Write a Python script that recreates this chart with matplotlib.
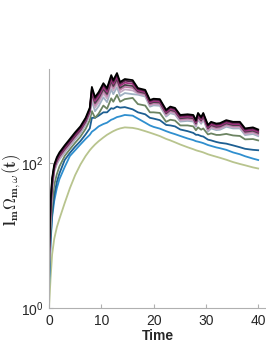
import matplotlib
matplotlib.use("Agg")
import matplotlib.pyplot as plt

plt.rcParams['font.family'] = ['Liberation Sans', 'DejaVu Sans']
plt.rcParams['mathtext.fontset'] = 'cm'

# time samples
t = [0, 0.3, 0.6, 1, 1.5, 2, 3, 4, 5, 6, 7, 7.8, 8.2, 8.8, 9.5, 10.4, 11.1, 11.9,
     12.3, 13, 13.6, 14.5, 16, 17, 18.4, 19.3, 20, 21.2, 22.4, 23.2, 24.1, 25.1,
     26.5, 27.6, 28.1, 28.5, 29.1, 29.5, 30.4, 31, 32, 32.7, 33.9, 35.2, 36.5,
     37.5, 39, 40]

# curves, bottom to top
olive = [1.0, 2.6, 5.5, 9, 13, 17, 28, 45, 68, 95, 125, 150, 162, 180, 200, 225,
         245, 265, 275, 290, 300, 310, 305, 295, 275, 262, 252, 235, 215, 205, 193,
         180, 165, 155, 150, 147, 143, 140, 132, 128, 122, 118, 111, 103, 97, 93, 87, 84]
mid_blue = [1.8, 8, 18, 30, 45, 60, 88, 125, 150, 180, 215, 245, 270, 290, 320, 345,
            360, 395, 405, 430, 440, 460, 450, 410, 360, 330, 315, 298, 275, 262, 250,
            236, 218, 207, 200, 197, 192, 188, 177, 172, 164, 160, 152, 140, 132, 124, 115, 110]
dark_blue = [2.3, 9, 20, 36, 55, 72, 110, 138, 168, 200, 248, 300, 420, 420, 450, 500,
             500, 570, 560, 600, 580, 590, 550, 500, 470, 420, 410, 390, 335, 330, 320,
             290, 275, 260, 245, 245, 235, 232, 210, 205, 195, 190, 185, 175, 165, 157, 152, 150]
grey_green = [2.8, 12, 28, 50, 70, 90, 125, 155, 190, 230, 295, 390, 520, 420, 480, 620,
              560, 780, 700, 870, 700, 760, 790, 650, 620, 500, 500, 490, 370, 395, 385,
              330, 330, 320, 283, 310, 288, 300, 248, 256, 244, 244, 252, 240, 236, 212, 214, 205]
grey_blue = [3.2, 17, 40, 76, 96, 112, 140, 172, 212, 256, 336, 464, 717, 518, 608, 806,
             691, 1043, 890, 1114, 838, 922, 890, 875, 826, 599, 624, 616, 437, 486, 466,
             373, 381, 373, 316, 397, 348, 397, 271, 300, 284, 288, 316, 300, 300, 243, 251, 235]
light_mauve = [3.6, 19, 43, 79, 100, 116, 145, 178, 220, 266, 349, 481, 806, 583, 684, 907,
               778, 1174, 1001, 1253, 943, 1037, 1001, 907, 857, 622, 647, 638, 454, 504, 483,
               386, 395, 386, 328, 412, 361, 412, 281, 311, 294, 298, 328, 311, 311, 252, 260, 244]
pink = [3.9, 21, 46, 82, 103, 120, 151, 185, 228, 275, 361, 499, 874, 632, 741, 983,
        842, 1271, 1084, 1357, 1022, 1123, 1084, 940, 887, 644, 670, 661, 470, 522, 500,
        400, 409, 400, 339, 426, 374, 426, 291, 322, 305, 309, 339, 322, 322, 261, 270, 252]
dark_grey = [4.2, 23, 50, 85, 107, 125, 156, 191, 236, 285, 374, 516, 930, 672, 789, 1046,
             896, 1353, 1154, 1444, 1087, 1195, 1154, 972, 918, 666, 693, 684, 486, 540, 518,
             414, 423, 414, 351, 441, 387, 441, 302, 333, 315, 320, 351, 333, 333, 270, 279, 261]
magenta = [4.5, 25, 54, 87, 110, 129, 161, 198, 244, 294, 386, 534, 997, 721, 846, 1121,
           961, 1451, 1237, 1549, 1166, 1282, 1237, 1004, 949, 688, 716, 707, 502, 558, 535,
           428, 437, 428, 363, 456, 400, 456, 312, 344, 326, 330, 363, 344, 344, 279, 288, 270]
dark_purple = [5.0, 28, 58, 91, 115, 134, 168, 206, 254, 307, 403, 557, 1064, 770, 903, 1197,
               1026, 1549, 1321, 1653, 1245, 1368, 1321, 1048, 989, 718, 747, 737, 524, 582, 558,
               446, 456, 446, 378, 475, 417, 475, 325, 359, 340, 344, 378, 359, 359, 291, 301, 281]
black = [5.5, 30, 62, 95, 120, 140, 175, 215, 265, 320, 420, 580, 1120, 810, 950, 1260,
         1080, 1630, 1390, 1740, 1310, 1440, 1390, 1080, 1020, 740, 770, 760, 540, 600, 575,
         460, 470, 460, 390, 490, 430, 490, 335, 370, 350, 355, 390, 370, 370, 300, 310, 290]

curves = [olive, mid_blue, dark_blue, grey_green, grey_blue, light_mauve,
          pink, dark_grey, magenta, dark_purple, black]
colors = ['#b8c48e', '#2f8fcf', '#1d5f92', '#6c8462', '#9fb0c2', '#c4a9c2',
          '#c07aaa', '#4a4048', '#a0307e', '#4a1a3e', '#000000']

fig = plt.figure(figsize=(2.66, 3.44), dpi=100)
ax = fig.add_axes([49/266, 1 - 308/344, 217/266, 239/344])

for y, c in zip(curves, colors):
    ax.plot(t, y, color=c, linewidth=1.3)

ax.set_yscale('log')
ax.set_xlim(0, 41.5)
ax.set_ylim(1, 1980)
ax.set_xticks([0, 10, 20, 30, 40])
ax.set_yticks([1, 100])
ax.set_yticklabels([r'$\mathregular{10^0}$', r'$\mathregular{10^2}$'])
ax.minorticks_off()

for s in ['top', 'right']:
    ax.spines[s].set_visible(False)
for s in ['left', 'bottom']:
    ax.spines[s].set_color('#b0b0b0')
ax.tick_params(direction='in', length=3, color='#b0b0b0', labelcolor='#262626',
               labelsize=10, pad=4)

ax.set_xlabel('Time', fontsize=10, fontweight='bold', color='#262626', labelpad=1)
ax.set_ylabel(r'$\mathbf{l_m\Omega_{m,\omega}(t)}$', fontsize=12, color='#262626')
ax.yaxis.set_label_coords(-0.122, 0.494)

fig.savefig('out.png', dpi=100)
